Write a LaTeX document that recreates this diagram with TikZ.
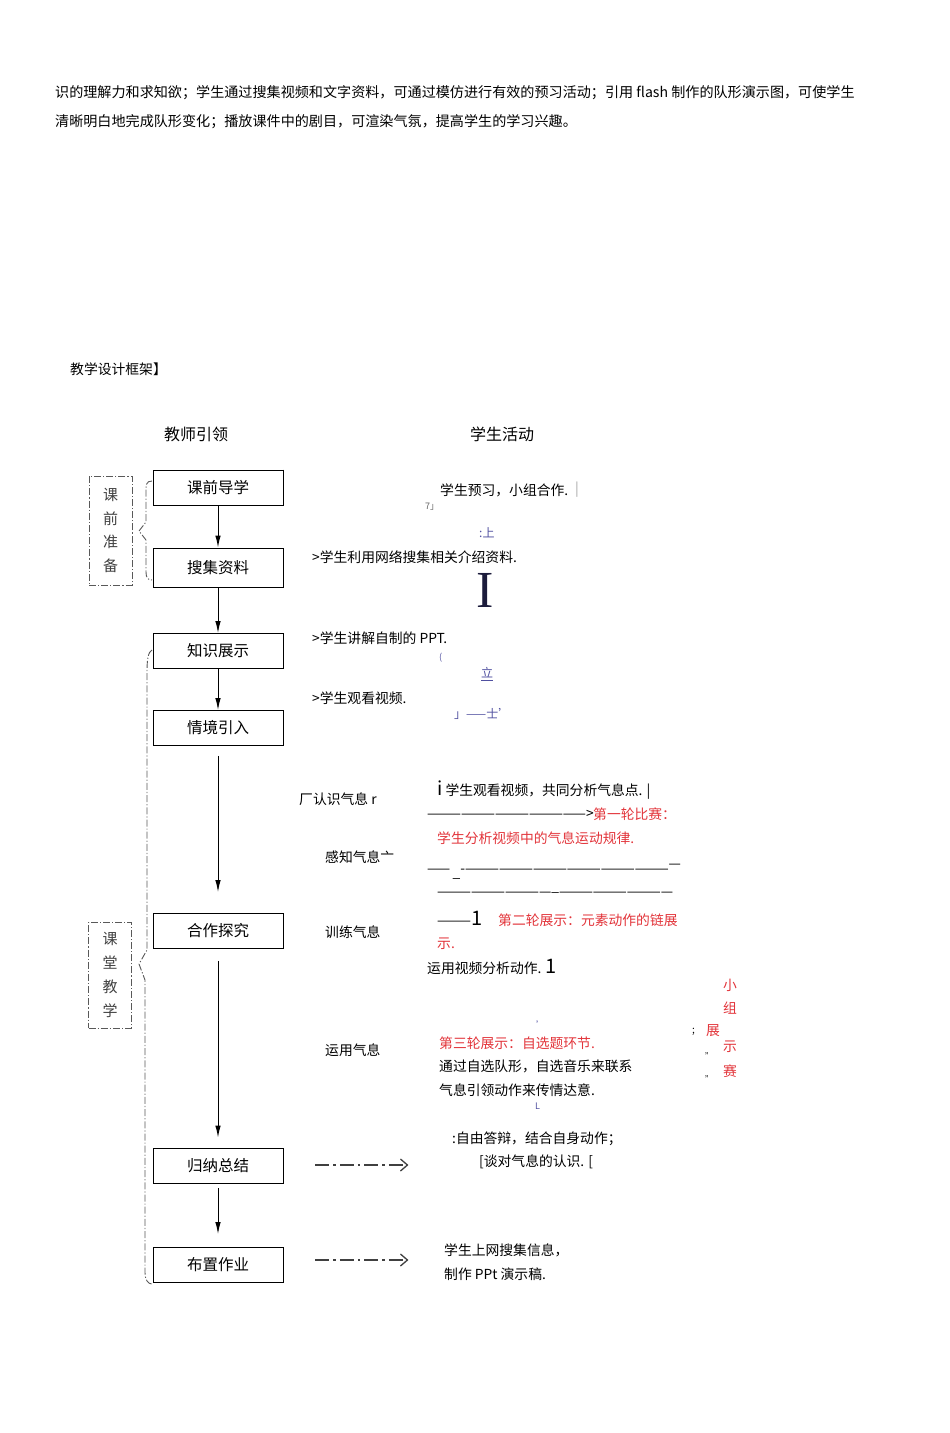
\documentclass[tikz,border=0pt]{standalone}
\usepackage{fontspec}
\setmainfont{Noto Sans CJK SC}
\newfontfamily\latinserif{Liberation Serif}
\usetikzlibrary{arrows.meta}
\definecolor{hotred}{RGB}{226,52,58}
\definecolor{inkblue}{RGB}{80,80,160}
\definecolor{darknavy}{RGB}{28,28,60}
\newcommand{\bodysize}{\fontsize{13.8}{16}\selectfont}
\newcommand{\introsize}{\fontsize{14.1}{16}\selectfont}
\newcommand{\boxsize}{\fontsize{15.5}{18}\selectfont}

\begin{document}
\begin{tikzpicture}[x=1pt, y=-1pt,
  box/.style={draw, line width=0.9pt, minimum width=130pt, minimum height=35pt,
              inner sep=0pt, font=\boxsize},
  sidebox/.style={draw, dashdot, minimum width=43pt, align=center,
                  font=\fontsize{15}{23.8}\selectfont, text=black!75},
  txt/.style={anchor=west, inner sep=0pt, font=\bodysize},
  hot/.style={txt, text=hotred},
  faint/.style={txt, text=inkblue, font=\fontsize{9}{10}\selectfont},
  flow/.style={-{Latex[length=12pt,width=5.5pt]}, line width=1pt},
  dashdot/.style={dash pattern=on 7pt off 2pt on 1.2pt off 2pt, line width=0.9pt, black!65},
  dasharr/.style={dash pattern=on 14pt off 4pt on 2.5pt off 4pt, line width=1.3pt, black!75,
                  -{Straight Barb[length=7pt,width=12pt]}}
]
\useasboundingbox (0,0) rectangle (950,1433);
  % intro text
  \node[txt, font=\introsize] (intro1) at (55,93) {识的理解力和求知欲；学生通过搜集视频和文字资料，可通过模仿进行有效的预习活动；引用 flash 制作的队形演示图，可使学生};
  \node[txt, font=\introsize] (intro2) at (55,122) {清晰明白地完成队形变化；播放课件中的剧目，可渲染气氛，提高学生的学习兴趣。};
  \node[txt] (title) at (70,369) {教学设计框架】};
  \node[font=\fontsize{16}{18}\selectfont] (teacher) at (196,434) {教师引领};
  \node[font=\fontsize{16}{18}\selectfont] (student) at (502,434) {学生活动};
  % teacher boxes
  \node[box] (guide)    at (218,487.5) {课前导学};
  \node[box, minimum height=39pt] (search) at (218,567.5) {搜集资料};
  \node[box] (show)     at (218,651)   {知识展示};
  \node[box] (scene)    at (218,728)   {情境引入};
  \node[box] (explore)  at (218,931)   {合作探究};
  \node[box] (summary)  at (218,1165.5){归纳总结};
  \node[box] (homework) at (218,1265)  {布置作业};
  \draw[line width=1.8pt] (guide.north east) -- (guide.south east);
  % flow
  \draw[flow] (guide) -- (search);
  \draw[flow] (search) -- (show);
  \draw[flow] (show) -- (scene);
  \draw[flow, shorten <=10pt, shorten >=21pt] (scene) -- (explore);
  \draw[flow, shorten <=12pt, shorten >=10pt] (explore) -- (summary);
  \draw[flow, shorten <=5pt, shorten >=13pt] (summary) -- (homework);
  % stages
  \node[sidebox, minimum height=109pt] (prep)  at (110.5,530.5) {课\\前\\准\\备};
  \node[sidebox, minimum height=106pt] (class) at (110,975)    {课\\堂\\教\\学};
  \draw[dashdot] (152,481) .. controls (146,481) and (146,485) .. (146,492)
        -- (146,522) -- (139,531) -- (146,540) -- (146,572)
        .. controls (146,578) and (148,580) .. (152,580);
  \draw[dashdot] (152,650) .. controls (148,652) and (147,660) .. (147,672)
        -- (147,950) -- (139,964) -- (145,980) -- (145,1272)
        .. controls (145,1280) and (148,1284) .. (152,1284);
  % student activities
  \node[txt] (a1) at (440,490) {学生预习，小组合作.};
  \node[txt, text=black!35] (a1bar) at (575,490) {|};
  \node[faint, text=black!60] (a1mark) at (425,507) {7」};
  \node[faint, font=\fontsize{12}{14}\selectfont] (a1up) at (479,533) {:上};
  \node[txt] (a2) at (312,557) {>学生利用网络搜集相关介绍资料.};
  \node[txt, text=darknavy, font=\latinserif\fontsize{52}{52}\selectfont] (bigI) at (476,590) {I};
  \node[txt] (a3) at (312,638) {>学生讲解自制的 PPT.};
  \node[faint] (a3mark) at (439,658) {(};
  \node[faint, font=\fontsize{12}{14}\selectfont] (a3up) at (481,674) {\underline{立}};
  \node[txt] (a4) at (312,698) {>学生观看视频.};
  \node[faint, font=\fontsize{12}{14}\selectfont] (a4mark) at (454,714) {」——士'};
  % cooperative part
  \node[txt] (k1) at (299,799) {厂认识气息 r};
  \node[txt] (k2) at (325,857) {感知气息亠};
  \node[txt] (k3) at (325,932) {训练气息};
  \node[txt] (k4) at (325,1050) {运用气息};
  \node[txt] (b1) at (437,790) {{\fontsize{19}{19}\selectfont i} 学生观看视频，共同分析气息点. |};
  \node[txt] (b1line) at (427,814) {——————————————>};
  \node[hot] (r1) at (593,814) {第一轮比赛：};
  \node[hot] (r1b) at (437,838) {学生分析视频中的气息运动规律.};
  \node[txt] (l1) at (427,872) {——\,\raisebox{-4pt}{\_}-——————————————————\raisebox{5pt}{—}};
  \node[txt] (l2) at (437,894) {——————————\raisebox{5pt}{\_}——————————};
  \node[txt] (b2) at (437,918) {———{\fontsize{20}{20}\selectfont 1}};
  \node[hot] (r2) at (498,920) {第二轮展示：元素动作的链展};
  \node[hot] (r2b) at (437,944) {示.};
  \node[txt] (b3) at (427,967) {运用视频分析动作. {\fontsize{20}{20}\selectfont 1}};
  \node[faint] (b3mark) at (536,1025) {'};
  \node[hot] (r3) at (439,1043) {第三轮展示：自选题环节.};
  \node[txt] (b4) at (439,1066) {通过自选队形，自选音乐来联系};
  \node[txt] (b5) at (439,1090) {气息引领动作来传情达意.};
  \node[faint] (b5mark) at (535,1106) {L};
  % contest column
  \node[hot] (c1) at (723,985)  {小};
  \node[hot] (c2) at (723,1008) {组};
  \node[hot] (c3) at (706,1031) {展};
  \node[hot] (c4) at (723,1047) {示};
  \node[hot] (c5) at (723,1071) {赛};
  \node[txt, font=\fontsize{10}{12}\selectfont] (c3mark) at (692,1032) {;};
  \node[txt, font=\fontsize{8}{10}\selectfont] (c4mark) at (705,1056) {"};
  \node[txt, font=\fontsize{8}{10}\selectfont] (c5mark) at (705,1079) {"};
  % summary and homework
  \node[txt] (s1) at (452,1139) {:自由答辩，结合自身动作；};
  \node[txt] (s2) at (479,1162) {[谈对气息的认识. [};
  \node[txt] (h1) at (444,1250) {学生上网搜集信息，};
  \node[txt] (h2) at (444,1274) {制作 PPt 演示稿.};
  \draw[dasharr] ([xshift=32pt,yshift=0.5pt]summary.east) -- ([xshift=125pt,yshift=0.5pt]summary.east);
  \draw[dasharr] ([xshift=32pt,yshift=5pt]homework.east) -- ([xshift=125pt,yshift=5pt]homework.east);
\end{tikzpicture}
\end{document}
